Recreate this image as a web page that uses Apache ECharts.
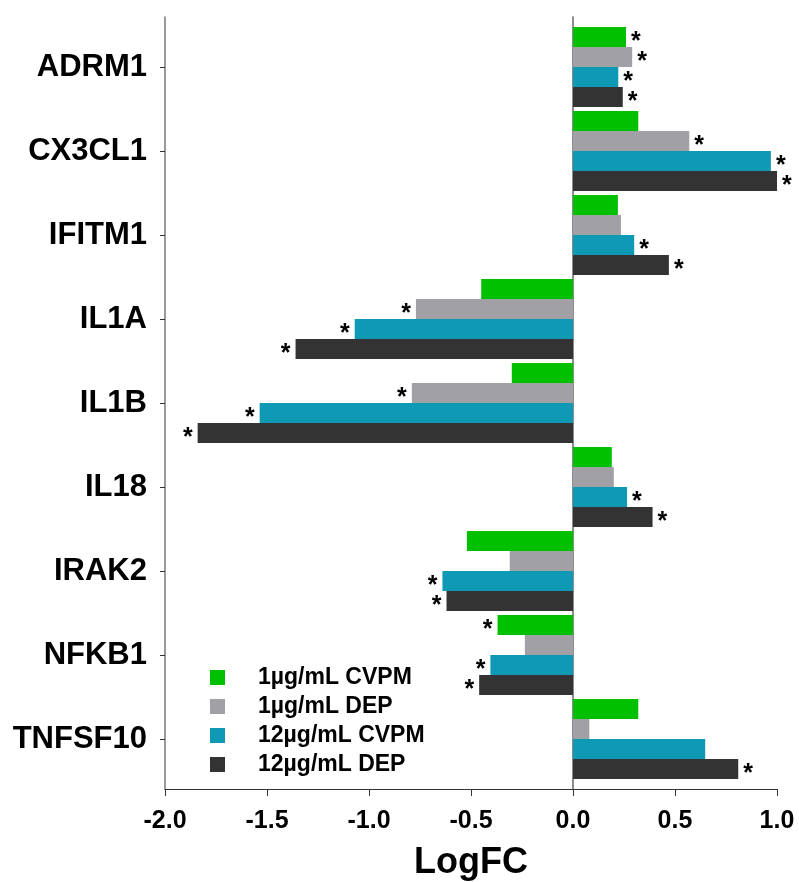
<!DOCTYPE html>
<html>
<head>
<meta charset="utf-8">
<style>
  html, body { margin: 0; padding: 0; background: #fff; }
  #chart { width: 799px; height: 882px; }
</style>
<script src="https://cdn.jsdelivr.net/npm/echarts@6/dist/echarts.min.js"></script>
</head>
<body>
<div id="chart"></div>
<script>
// Genes, top to bottom
const genes = ['ADRM1', 'CX3CL1', 'IFITM1', 'IL1A', 'IL1B', 'IL18', 'IRAK2', 'NFKB1', 'TNFSF10'];

// Log fold change per treatment
const cvpm1  = [0.26, 0.32, 0.22, -0.45, -0.30, 0.19, -0.52, -0.37, 0.32];
const dep1   = [0.29, 0.57, 0.235, -0.77, -0.79, 0.20, -0.31, -0.236, 0.08];
const cvpm12 = [0.222, 0.97, 0.30, -1.07, -1.536, 0.265, -0.64, -0.405, 0.648];
const dep12  = [0.244, 1.0, 0.47, -1.36, -1.84, 0.39, -0.62, -0.46, 0.81];

// Significance markers (*)
const sigCvpm1  = [true, false, false, false, false, false, false, true, false];
const sigDep1   = [true, true, false, true, true, false, false, false, false];
const sigCvpm12 = [true, true, true, true, true, true, true, true, false];
const sigDep12  = [true, true, true, true, true, true, true, true, true];

const seriesNames = ['1\u00b5g/mL CVPM', '1\u00b5g/mL DEP', '12\u00b5g/mL CVPM', '12\u00b5g/mL DEP'];
const xTicks = [-2.0, -1.5, -1.0, -0.5, 0.0, 0.5, 1.0];

const colors = ['#00c000', '#a1a1a5', '#1099b4', '#333333'];
const FONT = '"Liberation Sans", Arial, Helvetica, sans-serif';

function withStars(values, sig) {
  return values.map((v, i) => ({
    value: v,
    label: {
      show: sig[i],
      position: v >= 0 ? 'right' : 'left'
    }
  }));
}

const allValues = [cvpm1, dep1, cvpm12, dep12];
const allSig = [sigCvpm1, sigDep1, sigCvpm12, sigDep12];

const series = allValues.map((vals, k) => ({
  name: seriesNames[k],
  type: 'bar',
  xAxisIndex: 0,
  yAxisIndex: 0,
  barWidth: 20,
  barGap: '0%',
  itemStyle: { color: colors[k] },
  label: {
    formatter: '*',
    fontFamily: FONT,
    fontWeight: 'bold',
    fontSize: 25,
    color: '#000',
    distance: 5,
    offset: [0, 5]
  },
  data: withStars(vals, allSig[k])
}));

const chart = echarts.init(document.getElementById('chart'), null, { renderer: 'canvas' });

chart.setOption({
  animation: false,
  backgroundColor: '#fff',
  legend: {
    orient: 'vertical',
    left: 205,
    top: 661,
    itemWidth: 15,
    itemHeight: 15,
    itemGap: 6,
    icon: 'rect',
    data: seriesNames,
    textStyle: {
      fontFamily: FONT,
      fontWeight: 'bold',
      fontSize: 23,
      color: '#000',
      padding: [0, 0, 0, 28]
    }
  },
  grid: [
    // bar area
    { left: 165, right: 22, top: 25, height: 756, outerBoundsMode: 'none', containLabel: false },
    // frame: axis lines and ticks
    { left: 165, right: 22, top: 17, height: 772, outerBoundsMode: 'none', containLabel: false }
  ],
  xAxis: [
    {
      gridIndex: 0, type: 'value', min: -2, max: 1, interval: 0.5,
      show: false
    },
    {
      gridIndex: 1, type: 'value', min: -2, max: 1, interval: 0.5,
      axisLine: { show: true, onZero: false, lineStyle: { color: '#333', width: 1 } },
      axisTick: { show: true, inside: false, length: 7, lineStyle: { color: '#333' } },
      splitLine: { show: false },
      axisLabel: {
        margin: 20,
        fontFamily: FONT, fontWeight: 'bold', fontSize: 25, color: '#000',
        formatter: v => {
          const t = xTicks.find(x => Math.abs(x - v) < 1e-9);
          return (t !== undefined ? t : v).toFixed(1);
        }
      },
      name: 'LogFC',
      nameLocation: 'middle',
      nameGap: 56,
      nameTextStyle: { fontFamily: FONT, fontWeight: 'bold', fontSize: 36, color: '#000' }
    }
  ],
  yAxis: [
    {
      gridIndex: 0, type: 'category', data: genes, inverse: true,
      axisLine: { show: false, onZero: false },
      axisTick: { show: true, alignWithLabel: true, length: 5, lineStyle: { color: '#333' } },
      axisLabel: {
        margin: 18,
        fontFamily: FONT, fontWeight: 'bold', fontSize: 31, color: '#000'
      },
      splitLine: { show: false }
    },
    {
      // left frame line
      gridIndex: 1, type: 'value', min: 0, max: 1,
      axisLine: { show: true, onZero: false, lineStyle: { color: '#777', width: 1.5 } },
      axisTick: { show: false }, axisLabel: { show: false }, splitLine: { show: false }
    },
    {
      // zero reference line
      gridIndex: 1, type: 'value', min: 0, max: 1, position: 'left',
      axisLine: { show: true, onZero: true, lineStyle: { color: '#666', width: 1.5 } },
      axisTick: { show: false }, axisLabel: { show: false }, splitLine: { show: false }
    }
  ],
  series: series
});
</script>
</body>
</html>
